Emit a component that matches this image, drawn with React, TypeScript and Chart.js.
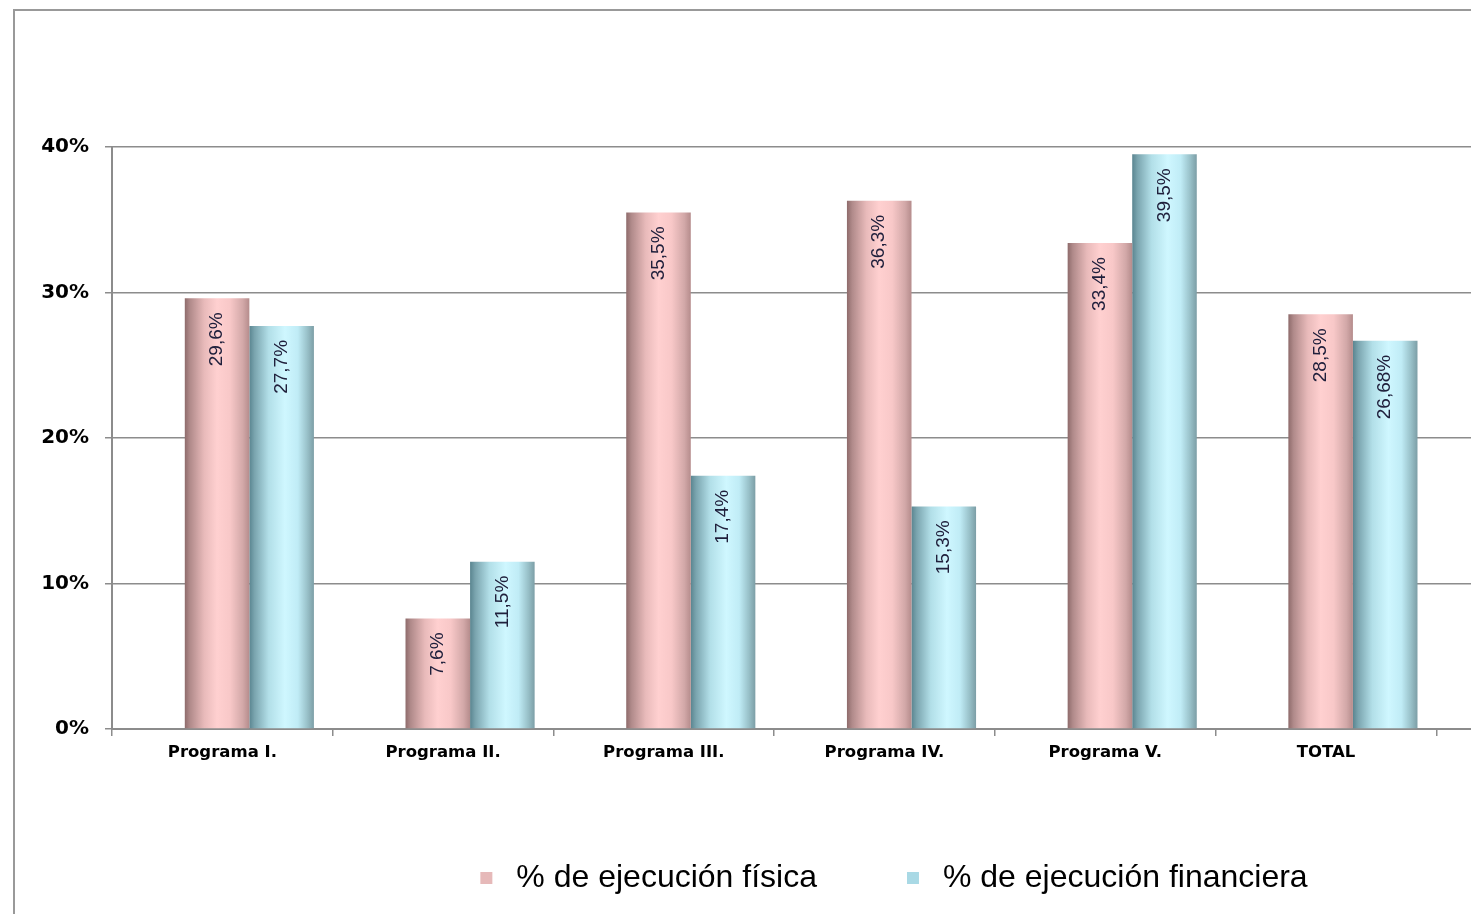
import React, { useEffect, useRef } from 'react';
import { Chart, registerables } from 'chart.js';

Chart.register(...registerables);

const categories = ['Programa I.', 'Programa II.', 'Programa III.', 'Programa IV.', 'Programa V.', 'TOTAL', ''];
const fisica = [29.6, 7.6, 35.5, 36.3, 33.4, 28.5, null];
const financiera = [27.7, 11.5, 17.4, 15.3, 39.5, 26.68, null];
const yTicks = [0, 10, 20, 30, 40];
const seriesNames = ['% de ejecución física', '% de ejecución financiera'];
const legendColors = ['#e6b9b9', '#a9d9e5'];

const redStops: [number, string][] = [
  [0, '#8e6b6b'], [0.08, '#b08a8a'], [0.3, '#e8baba'], [0.5, '#ffd0d0'],
  [0.7, '#f8c8c8'], [0.9, '#d2a8a8'], [1, '#b58c8c'],
];
const blueStops: [number, string][] = [
  [0, '#5a8590'], [0.08, '#7aa4ae'], [0.3, '#b2dfe8'], [0.55, '#cff7ff'],
  [0.75, '#c0ecf6'], [0.9, '#98c0c8'], [1, '#7c9ea6'],
];

const CW = 1750;
const CH = 980;
const SHIFT = 27;
const CAT_PCT = 0.585;

const makeFill = (stops: [number, string][]) => (c: any) => {
  const xs = c.chart.scales && c.chart.scales.x;
  if (!xs || !xs.width || c.dataIndex == null) return stops[3][1];
  const n = c.chart.data.datasets.length;
  const cw = xs.width / c.chart.data.labels.length;
  const gw = cw * CAT_PCT;
  const bw = gw / n;
  const center = xs.getPixelForValue(c.dataIndex);
  const left = center - gw / 2 + c.datasetIndex * bw;
  if (!isFinite(left)) return stops[3][1];
  const g = c.chart.ctx.createLinearGradient(left, 0, left + bw, 0);
  stops.forEach(([o, col]) => g.addColorStop(o, col));
  return g;
};

const fmt = (v: number) => String(v).replace('.', ',') + '%';

const barShift = {
  id: 'barShift',
  beforeDatasetsDraw(chart: any) {
    chart.ctx.save();
    chart.ctx.translate(SHIFT, 0);
  },
  afterDatasetsDraw(chart: any) {
    const ctx = chart.ctx;
    chart.data.datasets.forEach((ds: any, di: number) => {
      const meta = chart.getDatasetMeta(di);
      meta.data.forEach((bar: any, i: number) => {
        const v = ds.data[i];
        if (v == null) return;
        ctx.save();
        ctx.translate(bar.x, bar.y + 14);
        ctx.rotate(-Math.PI / 2);
        ctx.textAlign = 'right';
        ctx.textBaseline = 'middle';
        ctx.font = '19px "Liberation Sans"';
        ctx.fillStyle = '#20203c';
        ctx.fillText(fmt(v), 0, 0);
        ctx.restore();
      });
    });
    ctx.restore();
  },
};

export default function App() {
  const ref = useRef<HTMLCanvasElement>(null);
  useEffect(() => {
    if (!ref.current) return;
    const chart = new Chart(ref.current, {
      type: 'bar',
      data: {
        labels: categories,
        datasets: [
          { label: seriesNames[0], data: fisica, backgroundColor: makeFill(redStops), categoryPercentage: CAT_PCT, barPercentage: 1, yAxisID: 'y' },
          { label: seriesNames[1], data: financiera, backgroundColor: makeFill(blueStops), categoryPercentage: CAT_PCT, barPercentage: 1, yAxisID: 'y' },
        ],
      } as any,
      options: {
        responsive: false,
        animation: false,
        devicePixelRatio: 1,
        layout: { padding: { top: 136, left: 0, right: 0, bottom: 87 } },
        plugins: {
          tooltip: { enabled: false },
          legend: {
            position: 'bottom',
            labels: {
              usePointStyle: true,
              pointStyle: 'rect',
              boxWidth: 28,
              boxHeight: 12,
              padding: 82,
              color: '#000',
              font: { family: '"Liberation Sans", Arial, sans-serif', size: 32 },
              generateLabels: (chart: any) =>
                chart.data.datasets.map((ds: any, i: number) => ({
                  text: ds.label,
                  fillStyle: legendColors[i],
                  strokeStyle: legendColors[i],
                  lineWidth: 0,
                  pointStyle: 'rect',
                  hidden: false,
                  datasetIndex: i,
                  fontColor: '#000',
                })),
            },
          },
        },
        scales: {
          x: {
            grid: { offset: true, drawOnChartArea: false, tickLength: 7, color: '#8c8c8c', lineWidth: 1.5 },
            border: { color: '#8c8c8c', width: 2 },
            ticks: {
              color: '#000',
              padding: 7,
              maxRotation: 0,
              autoSkip: false,
              font: { family: '"DejaVu Sans"', weight: 'bold', size: 16.5 },
            },
            afterFit(s: any) { s.height = 51; },
          },
          y: {
            min: 0,
            max: 40,
            afterBuildTicks(s: any) { s.ticks = yTicks.map((v) => ({ value: v })); },
            ticks: {
              color: '#000',
              padding: 16,
              font: { family: '"DejaVu Sans"', weight: 'bold', size: 20 },
              callback: (v: any) => v + '%',
            },
            grid: { color: '#8c8c8c', lineWidth: 1.5, tickLength: 7 },
            border: { color: '#8c8c8c', width: 2 },
            afterFit(s: any) { s.width = 97; },
          },
          yR: {
            type: 'linear',
            position: 'right',
            display: true,
            grid: { display: false },
            border: { display: false },
            ticks: { display: false },
            afterFit(s: any) { s.width = 108; },
          },
        },
      } as any,
      plugins: [barShift],
    });
    return () => chart.destroy();
  }, []);

  return (
    <div style={{ position: 'fixed', left: 0, top: 0, width: '100vw', height: '100vh', overflow: 'hidden', background: '#fff' }}>
      <div style={{ position: 'absolute', left: 13, top: 9, border: '2px solid #999', width: CW, height: CH }}>
        <canvas ref={ref} width={CW} height={CH} style={{ display: 'block', width: CW, height: CH }} />
      </div>
    </div>
  );
}
